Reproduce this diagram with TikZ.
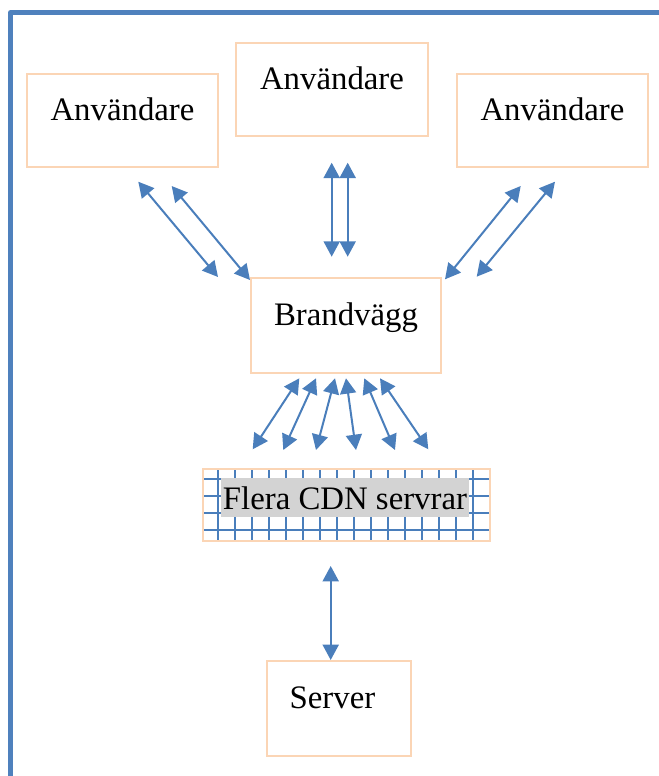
\documentclass[tikz,border=0pt]{standalone}
\usepackage{fontspec}
\setmainfont{Liberation Serif}
\usepackage{xcolor}
\usepackage{tikz}
\usetikzlibrary{arrows.meta}
\definecolor{frameblue}{RGB}{79,129,189}
\definecolor{linkblue}{RGB}{74,126,187}
\definecolor{boxorange}{RGB}{251,213,181}
\definecolor{labelgray}{RGB}{211,211,211}

\begin{document}
\begin{tikzpicture}%
                    [x=0.75pt, y=-0.75pt,
                    box/.style={draw=boxorange, line width=1.5pt, rectangle, inner sep=0pt,
                                text height=12pt, text depth=12pt, font=\fontsize{24.6}{29}\selectfont},
                    link/.style={color=linkblue, line width=1.5pt,
                                 {Triangle[length=11.5pt,width=12pt]}-{Triangle[length=11.5pt,width=12pt]}},
                    gridline/.style={color=linkblue, line width=1.5pt}]
                \useasboundingbox (0,0) rectangle (659,776);
                %% Drawing the frame
                \draw[color=frameblue, line width=3.75pt, line join=round] (10.5,776) -- (10.5,12.5) -- (659,12.5);
                %%
                %% Drawing the boxes
                %%
                \node[box, minimum width=143.25pt, minimum height=69.75pt] (userL) at (122.5,120.5) {Användare};
                \node[box, minimum width=144pt, minimum height=69.75pt] (userM) at (332,89.5) {Användare};
                \node[box, minimum width=143.25pt, minimum height=69.75pt] (userR) at (552.5,120.5) {Användare};
                \node[box, minimum width=142.5pt, minimum height=71.25pt] (brand) at (346,325.5) {Brandvägg};
                \node[box, minimum width=108pt, minimum height=71.25pt] (server) at (339,708.5) {Server\hspace*{9.75pt}};
                %% grid of the CDN box
                \foreach \gx in {0,...,15}
                    \draw[gridline] (217.7+17*\gx,469) -- (217.7+17*\gx,541);
                \foreach \gy in {479,496,513,530}
                    \draw[gridline] (203,\gy) -- (490,\gy);
                \node[draw=boxorange, line width=1.5pt, rectangle, inner sep=0pt,
                      minimum width=215.25pt, minimum height=54pt] (cdn) at (346.5,505) {};
                \node[fill=labelgray, inner xsep=1.5pt, inner ysep=0pt, text height=23.5pt, text depth=5.8pt,
                      anchor=base, font=\fontsize{24.6}{29}\selectfont] (cdnlabel) at (345,509.3) {Flera CDN servrar};
                %%
                %% Ends of the links
                %%
                \coordinate (l1a) at (138.3,181.7); \coordinate (l1b) at (218,277);
                \coordinate (l2a) at (171.7,186);   \coordinate (l2b) at (250,280);
                \coordinate (m1a) at (331.7,162.7); \coordinate (m1b) at (331.7,256.7);
                \coordinate (m2a) at (347.7,162.7); \coordinate (m2b) at (347.7,256.7);
                \coordinate (r1a) at (520.7,186);   \coordinate (r1b) at (445,279.3);
                \coordinate (r2a) at (555,181.7);   \coordinate (r2b) at (476.7,276.7);
                \coordinate (c1a) at (299.3,378.3); \coordinate (c1b) at (252.7,449.3);
                \coordinate (c2a) at (316,378.3);   \coordinate (c2b) at (283.3,450);
                \coordinate (c3a) at (335,378.3);   \coordinate (c3b) at (316,450);
                \coordinate (c4a) at (346,378.3);   \coordinate (c4b) at (356,450);
                \coordinate (c5a) at (364.3,378.3); \coordinate (c5b) at (395,450);
                \coordinate (c6a) at (380,378.3);   \coordinate (c6b) at (428.3,449.3);
                \coordinate (s1a) at (330.7,566);   \coordinate (s1b) at (330.7,660);
                %% Links
                \draw[link] (l1a) -- (l1b);
                \draw[link] (l2a) -- (l2b);
                \draw[link] (m1a) -- (m1b);
                \draw[link] (m2a) -- (m2b);
                \draw[link] (r1a) -- (r1b);
                \draw[link] (r2a) -- (r2b);
                \draw[link] (c1a) -- (c1b);
                \draw[link] (c2a) -- (c2b);
                \draw[link] (c3a) -- (c3b);
                \draw[link] (c4a) -- (c4b);
                \draw[link] (c5a) -- (c5b);
                \draw[link] (c6a) -- (c6b);
                \draw[link] (s1a) -- (s1b);
\end{tikzpicture}
\end{document}
